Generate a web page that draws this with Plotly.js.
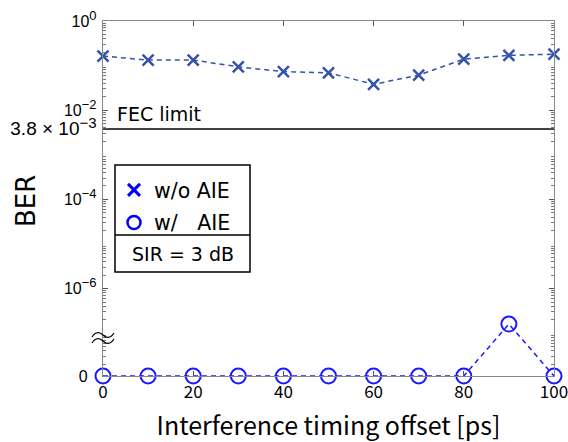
<!DOCTYPE html>
<html>
<head>
<meta charset="utf-8">
<script src="https://cdn.plot.ly/plotly-3.0.1.min.js"></script>
<style>html,body{margin:0;padding:0;background:#fff;}#chart{width:568px;height:442px;}</style>
</head>
<body>
<div id="chart"></div>
<script>
// ---- data ----
const offsets = [0, 10, 20, 30, 40, 50, 60, 70, 80, 90, 100];
const berWithoutAIE = [0.164, 0.133, 0.133, 0.094, 0.073, 0.069, 0.038, 0.061, 0.14, 0.17, 0.18];
const berWithAIE = [0, 0, 0, 0, 0, 0, 0, 0, 0, 1.6e-7, 0];
const fecLimit = 3.8e-3;
const sup = s => "<sup><span style=\"font-size:13px\">" + s + "</span></sup>";
const yTickLabels = [
  "10" + sup("0"),
  "10" + sup("\u22122"),
  "<span style=\"font-size:19px\">3.8 \u00d7 10</span><sup><span style=\"font-size:15px\">\u22123</span></sup>",
  "10" + sup("\u22124"),
  "10" + sup("\u22126"),
  "0\u00a0\u00a0"
];
const yTickValuesLog = [0, -2, Math.log10(3.8e-3), -4, -6];

// broken-axis: zero is drawn at the bottom of the log axis
const ZERO_LOG = -7.96;
const ZERO_LEVEL = Math.pow(10, ZERO_LOG);
const toAxis = v => (v > 0 ? v : ZERO_LEVEL);

const tickVals = yTickValuesLog.map(l => Math.pow(10, l)).concat([ZERO_LEVEL]);
const minorVals = [];
for (let d = -8; d <= -1; d++) {
  for (let k = 2; k <= 9; k++) {
    const v = k * Math.pow(10, d);
    if (v > ZERO_LEVEL) minorVals.push(v);
  }
}

// pixel helpers for annotations / frame in paper coords
const L = 103, R = 14, T = 21, B = 66, W = 568, H = 442;
const pw = W - L - R, ph = H - T - B;
const px = x => (x - L) / pw;
const py = y => (H - B - y) / ph;
const P = (x, y) => px(x).toFixed(5) + ',' + py(y).toFixed(5);
const tilde = y => 'M' + P(92, y + 2) + ' C' + P(96, y - 4) + ' ' + P(100, y - 3) + ' ' + P(103, y) +
                   ' C' + P(106, y + 3) + ' ' + P(110, y + 4) + ' ' + P(114, y - 2);

const TXT = 'DejaVu Sans, sans-serif';

const traces = [
  {
    x: offsets, y: berWithoutAIE.map(toAxis), mode: 'lines+markers', name: 'w/o AIE',
    line: {color: '#3352a8', width: 1.5, dash: '5px,4px'},
    marker: {symbol: 'x-thin-open', size: 11, color: '#3352a8', line: {color: '#3352a8', width: 2.5}},
    showlegend: false, cliponaxis: false
  },
  {
    x: offsets, y: berWithAIE.map(toAxis), mode: 'lines+markers', name: 'w/ AIE',
    line: {color: '#1a1aff', width: 1.5, dash: '5px,4px'},
    marker: {symbol: 'circle-open', size: 15, color: '#1a1aff', line: {color: '#1a1aff', width: 2}},
    showlegend: false, cliponaxis: false
  },
  {
    x: [offsets[0], offsets[offsets.length - 1]], y: [fecLimit, fecLimit], mode: 'lines',
    line: {color: '#000', width: 1.5}, showlegend: false, hoverinfo: 'skip'
  },
  {
    x: [null], y: [null], mode: 'markers', name: 'w/o AIE', legendgroup: 'a',
    marker: {symbol: 'x-thin-open', size: 12, color: '#0000ff', line: {color: '#0000ff', width: 3}}
  },
  {
    x: [null], y: [null], mode: 'markers', name: 'w/\u00a0\u00a0\u00a0AIE', legendgroup: 'b',
    marker: {symbol: 'circle-open', size: 13, color: '#0000ff', line: {color: '#0000ff', width: 2.5}}
  }
];

const layout = {
  width: W, height: H,
  margin: {l: L, r: R, t: T, b: B},
  paper_bgcolor: '#fff', plot_bgcolor: '#fff',
  showlegend: true,
  legend: {
    x: px(114), y: py(170), xanchor: 'left', yanchor: 'top',
    bgcolor: 'rgba(0,0,0,0)', borderwidth: 0,
    font: {family: TXT, size: 20.5, color: '#000'},
    traceorder: 'grouped', tracegroupgap: 3
  },
  xaxis: {
    range: [0, 100], tickvals: [0, 20, 40, 60, 80, 100],
    ticks: 'inside', ticklen: 5, tickcolor: '#555', mirror: 'ticks',
    showline: true, linecolor: '#888', linewidth: 1.2, showgrid: false, zeroline: false,
    ticklabeloverflow: 'allow',
    tickfont: {family: 'Noto Sans CJK JP, sans-serif', size: 17, color: '#000'},
    title: {text: 'Interference timing offset [ps]', standoff: 20,
            font: {family: 'Noto Sans CJK JP, sans-serif', size: 25, color: '#000'}}
  },
  yaxis: {
    type: 'log', range: [ZERO_LOG, 0],
    tickmode: 'array', tickvals: tickVals, ticktext: yTickLabels,
    ticks: 'inside', ticklen: 5, tickcolor: '#555', mirror: 'ticks',
    minor: {tickmode: 'array', tickvals: minorVals, ticks: 'inside', ticklen: 3, tickcolor: '#777', showgrid: false},
    showline: true, linecolor: '#888', linewidth: 1.2, showgrid: false, zeroline: false,
    tickfont: {family: 'Liberation Sans, Arial, sans-serif', size: 16, color: '#000'},
    ticklabelstandoff: 2
  },
  shapes: [
    {type: 'rect', xref: 'paper', yref: 'paper', x0: px(115), x1: px(250), y0: py(272), y1: py(165),
     line: {color: '#000', width: 1.5}, fillcolor: 'rgba(255,255,255,0)', layer: 'below'},
    {type: 'line', xref: 'paper', yref: 'paper', x0: px(115), x1: px(250), y0: py(235), y1: py(235),
     line: {color: '#000', width: 1.5}},
    {type: 'path', xref: 'paper', yref: 'paper', path: tilde(335), line: {color: '#000', width: 1.3}},
    {type: 'path', xref: 'paper', yref: 'paper', path: tilde(341), line: {color: '#000', width: 1.3}}
  ],
  annotations: [
    {text: 'FEC limit', xref: 'paper', yref: 'paper', x: px(115), y: py(114), xanchor: 'left', yanchor: 'middle',
     showarrow: false, font: {family: TXT, size: 19, color: '#000'}},
    {text: 'SIR = 3 dB', xref: 'paper', yref: 'paper', x: px(182.5), y: py(254), xanchor: 'center', yanchor: 'middle',
     showarrow: false, font: {family: TXT, size: 19, color: '#000'}},
    {text: 'BER', xref: 'paper', yref: 'paper', x: px(26), y: py(201), xanchor: 'center', yanchor: 'middle',
     textangle: -90, showarrow: false, font: {family: TXT, size: 26, color: '#000'}}
  ]
};

Plotly.newPlot('chart', traces, layout, {displayModeBar: false, staticPlot: true});
</script>
</body>
</html>
